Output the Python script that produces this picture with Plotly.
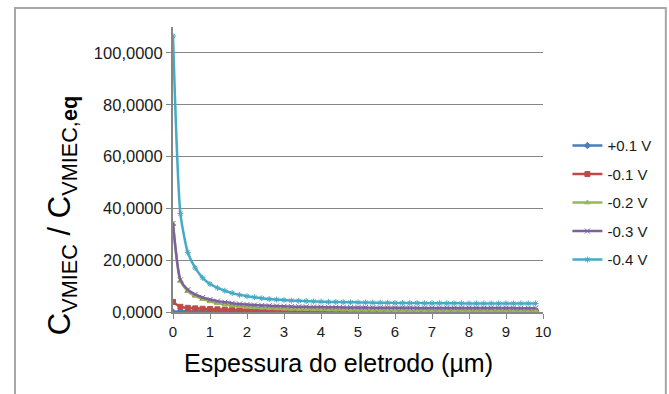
import plotly.graph_objects as go

# Electrode thickness (µm)
espessura = [0.0, 0.2, 0.4, 0.6, 0.8, 1.0, 1.2, 1.4, 1.6, 1.8,
             2.0, 2.2, 2.4, 2.6, 2.8, 3.0, 3.2, 3.4, 3.6, 3.8,
             4.0, 4.2, 4.4, 4.6, 4.8, 5.0, 5.2, 5.4, 5.6, 5.8,
             6.0, 6.2, 6.4, 6.6, 6.8, 7.0, 7.2, 7.4, 7.6, 7.8,
             8.0, 8.2, 8.4, 8.6, 8.8, 9.0, 9.2, 9.4, 9.6, 9.8]

# Concentration ratio C_VMIEC / C_VMIEC,eq for each potential
v_p01 = [0.00, 0.30, 0.40, 0.42, 0.42, 0.41, 0.40, 0.40, 0.39, 0.39,
         0.38, 0.38, 0.37, 0.37, 0.36, 0.36, 0.36, 0.35, 0.35, 0.35,
         0.34, 0.34, 0.34, 0.33, 0.33, 0.33, 0.33, 0.32, 0.32, 0.32,
         0.32, 0.31, 0.31, 0.31, 0.31, 0.31, 0.30, 0.30, 0.30, 0.30,
         0.30, 0.30, 0.30, 0.29, 0.29, 0.29, 0.29, 0.29, 0.29, 0.29]
v_m01 = [3.90, 2.00, 1.60, 1.40, 1.25, 1.15, 1.05, 0.95, 0.90, 0.85,
         0.80, 0.76, 0.72, 0.69, 0.66, 0.63, 0.61, 0.59, 0.57, 0.55,
         0.53, 0.52, 0.50, 0.49, 0.48, 0.46, 0.45, 0.44, 0.43, 0.42,
         0.41, 0.40, 0.40, 0.39, 0.38, 0.37, 0.37, 0.36, 0.36, 0.35,
         0.35, 0.34, 0.34, 0.33, 0.33, 0.32, 0.32, 0.32, 0.31, 0.31]
v_m02 = [34.0, 12.0, 8.00, 6.20, 5.00, 4.10, 3.40, 2.90, 2.50, 2.20,
         1.95, 1.75, 1.60, 1.45, 1.35, 1.25, 1.15, 1.10, 1.05, 1.00,
         0.95, 0.90, 0.88, 0.85, 0.82, 0.80, 0.78, 0.76, 0.74, 0.72,
         0.70, 0.69, 0.68, 0.67, 0.66, 0.65, 0.64, 0.64, 0.63, 0.63,
         0.62, 0.62, 0.61, 0.61, 0.61, 0.60, 0.60, 0.60, 0.60, 0.60]
v_m03 = [34.2, 12.4, 8.60, 6.80, 5.60, 4.80, 4.20, 3.80, 3.40, 3.10,
         2.90, 2.70, 2.55, 2.40, 2.30, 2.20, 2.10, 2.05, 2.00, 1.95,
         1.90, 1.85, 1.80, 1.78, 1.75, 1.72, 1.70, 1.68, 1.66, 1.64,
         1.62, 1.61, 1.60, 1.59, 1.58, 1.57, 1.56, 1.55, 1.54, 1.53,
         1.52, 1.52, 1.51, 1.51, 1.50, 1.50, 1.50, 1.49, 1.49, 1.49]
v_m04 = [106.5, 38.0, 23.0, 17.0, 13.2, 10.8, 9.30, 8.20, 7.30, 6.60,
         6.10, 5.70, 5.30, 5.00, 4.80, 4.60, 4.40, 4.30, 4.20, 4.10,
         4.00, 3.90, 3.85, 3.80, 3.75, 3.70, 3.65, 3.60, 3.60, 3.55,
         3.50, 3.50, 3.45, 3.45, 3.40, 3.40, 3.40, 3.35, 3.35, 3.35,
         3.30, 3.30, 3.30, 3.30, 3.30, 3.30, 3.30, 3.30, 3.30, 3.30]

series_names = ["+0.1 V", "-0.1 V", "-0.2 V", "-0.3 V", "-0.4 V"]
series_values = [v_p01, v_m01, v_m02, v_m03, v_m04]
colors = ["#4A7EBB", "#BE4B48", "#98B954", "#7D60A0", "#46AAC5"]
symbols = ["diamond", "square", "triangle-up", "x-thin-open", "asterisk-open"]

y_ticks = [0, 20, 40, 60, 80, 100]
x_ticks = [0, 1, 2, 3, 4, 5, 6, 7, 8, 9, 10]

FONT = "Liberation Sans, Arial, sans-serif"

fig = go.Figure()
for name, vals, col, sym in zip(series_names, series_values, colors, symbols):
    fig.add_trace(go.Scatter(
        x=espessura, y=vals, name=name, mode="lines+markers",
        line=dict(color=col, width=2.5, shape="spline", smoothing=0.6),
        marker=dict(symbol=sym, size=5, color=col, line=dict(color=col, width=1)),
        legendgroup=name,
    ))

fig.update_layout(
    width=669, height=394,
    margin=dict(l=173, r=126, t=27, b=82, autoexpand=False),
    paper_bgcolor="white", plot_bgcolor="white",
    font=dict(family=FONT, size=15, color="#1a1a1a"),
    separators=",.",
    showlegend=True,
    legend=dict(x=1.066, y=0.641, xanchor="left", yanchor="top",
                font=dict(size=15), tracegroupgap=6,
                bgcolor="rgba(0,0,0,0)"),
    xaxis=dict(range=[0, 10], tickvals=x_ticks, showgrid=False,
               showline=True, linecolor="#868686", linewidth=2,
               ticks="outside", ticklen=5, tickcolor="#868686", tickwidth=1,
               tickfont=dict(size=15), zeroline=False, automargin=False),
    yaxis=dict(range=[0, 110], tickvals=y_ticks, tickformat=".4f",
               showgrid=True, gridcolor="#868686", gridwidth=1,
               showline=True, linecolor="#868686", linewidth=2,
               ticks="outside", ticklen=5, tickcolor="#868686", tickwidth=1,
               tickfont=dict(size=16.5), zeroline=False, automargin=False),
    shapes=[dict(type="rect", xref="paper", yref="paper",
                 x0=-0.427, x1=1.332, y0=-0.4, y1=1.067,
                 line=dict(color="#A6A6A6", width=2), layer="below")],
    annotations=[
        dict(text="C<sub>VMIEC</sub> / C<sub>VMIEC,<b>eq</b></sub>",
             xref="paper", yref="paper", x=-0.298, y=0.339,
             xanchor="center", yanchor="middle", textangle=-90,
             showarrow=False, font=dict(size=31, color="black")),
        dict(text="Espessura do eletrodo (µm)",
             xref="paper", yref="paper", x=0.446, y=-0.18,
             xanchor="center", yanchor="middle",
             showarrow=False, font=dict(size=25, color="black")),
    ],
)

fig.write_html("out.html")
